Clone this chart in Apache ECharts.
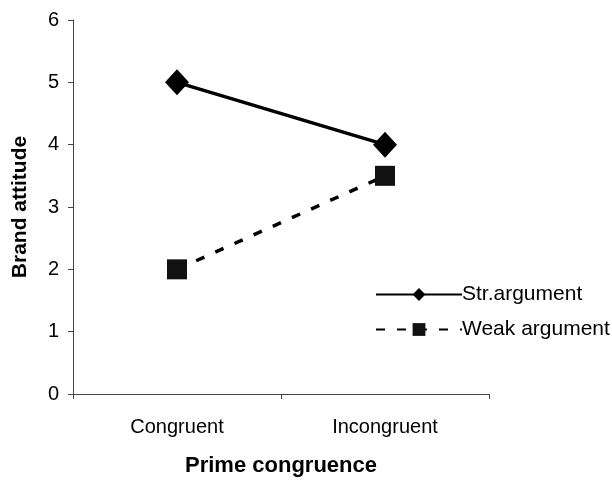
<!DOCTYPE html>
<html>
<head>
<meta charset="utf-8">
<script src="https://cdn.jsdelivr.net/npm/echarts@6/dist/echarts.min.js"></script>
<style>
html, body { margin: 0; padding: 0; background: #fff; }
#chart { width: 612px; height: 482px; }
</style>
</head>
<body>
<div id="chart"></div>
<script>
var categories = ['Congruent', 'Incongruent'];
var strArgument = [5, 4];
var weakArgument = [2, 3.5];
var yTicks = [0, 1, 2, 3, 4, 5, 6];

var font = 'Liberation Sans, Arial, sans-serif';
var myChart = echarts.init(document.getElementById('chart'));
var option = {
	animation: false,
	backgroundColor: '#fff',
	grid: { left: 73, top: 20, right: 123, bottom: 87 },
	legend: {
		orient: 'vertical',
		left: 370,
		top: 279,
		itemWidth: 86,
		itemHeight: 16,
		itemGap: 14,
		textStyle: { color: '#000', fontSize: 21, fontFamily: font, padding: [0, 0, 0, -5] },
		data: ['Str.argument', 'Weak argument']
	},
	xAxis: {
		type: 'category',
		data: categories,
		name: 'Prime congruence',
		nameLocation: 'middle',
		nameGap: 61,
		nameTextStyle: { color: '#000', fontSize: 22, fontWeight: 'bold', fontFamily: font },
		axisLine: { lineStyle: { color: '#444', width: 1 } },
		axisTick: { show: true, length: 5, lineStyle: { color: '#444' } },
		axisLabel: { color: '#000', fontSize: 20, fontFamily: font, margin: 23 }
	},
	yAxis: {
		type: 'value',
		min: yTicks[0],
		max: yTicks[yTicks.length - 1],
		interval: 1,
		name: 'Brand attitude',
		nameLocation: 'middle',
		nameGap: 42,
		nameTextStyle: { color: '#000', fontSize: 21, fontWeight: 'bold', fontFamily: font },
		splitLine: { show: false },
		axisLine: { show: true, lineStyle: { color: '#444', width: 1 } },
		axisTick: { show: true, length: 5, lineStyle: { color: '#444' } },
		axisLabel: { color: '#000', fontSize: 20, fontFamily: font, margin: 14 }
	},
	series: [{
		name: 'Str.argument',
		type: 'line',
		data: strArgument,
		symbol: 'diamond',
		symbolSize: [24, 26],
		itemStyle: { color: '#000' },
		lineStyle: { color: '#000', width: 3.5 }
	}, {
		name: 'Weak argument',
		type: 'line',
		data: weakArgument,
		symbol: 'rect',
		symbolSize: 20,
		itemStyle: { color: '#111' },
		lineStyle: { color: '#000', width: 3.5, type: [9, 12] }
	}]
};
myChart.setOption(option);
</script>
</body>
</html>
